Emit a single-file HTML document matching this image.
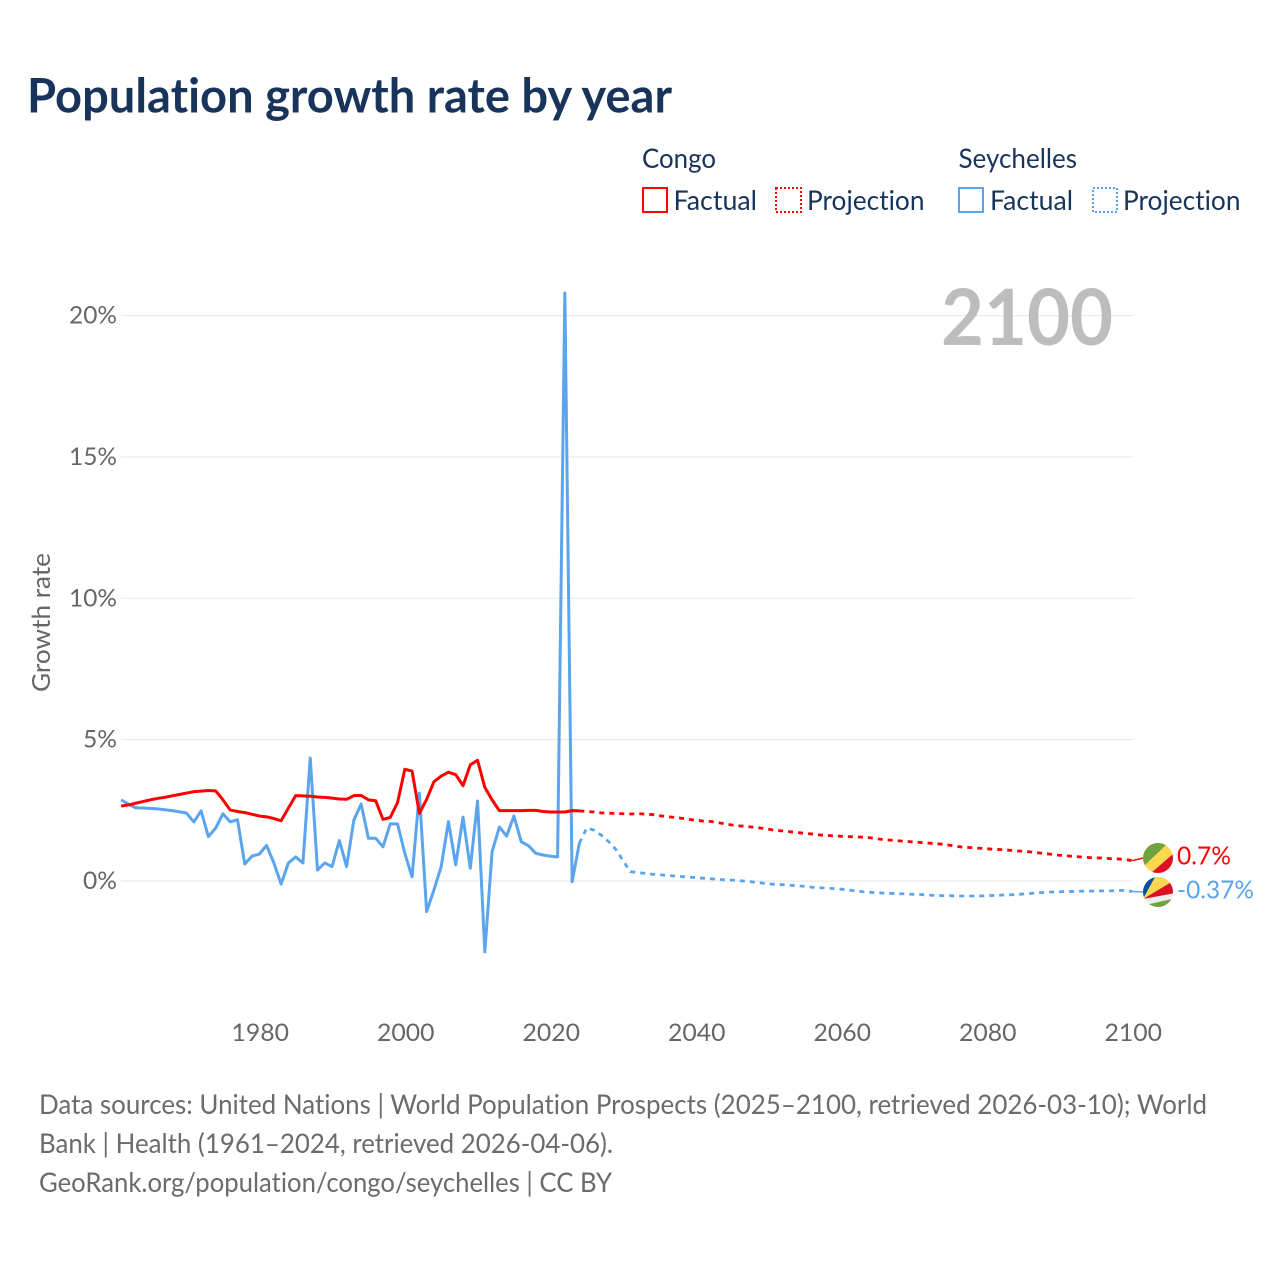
<!DOCTYPE html>
<html lang="en">
<head>
<meta charset="utf-8">
<title>Population growth rate by year</title>
<style>
html,body{margin:0;padding:0;background:#fff;}
svg{display:block;}
text{font-family:"Lato","Carlito","Liberation Sans",sans-serif;font-variant-ligatures:none;font-feature-settings:"liga" 0,"clig" 0;}
</style>
</head>
<body>
<svg id="chart" xmlns="http://www.w3.org/2000/svg" width="1280" height="1280" viewBox="0 0 1280 1280">
  <defs>
    <clipPath id="flag-clip-a"><circle cx="0" cy="0" r="15"/></clipPath>
    <clipPath id="flag-clip-b"><circle cx="0" cy="0" r="15"/></clipPath>
  </defs>
  <rect width="1280" height="1280" fill="#fff"/>
  <text x="27" y="112.5" font-size="48" font-weight="700" fill="#18345a" textLength="645" lengthAdjust="spacingAndGlyphs">Population growth rate by year</text>

  <g font-size="27" fill="#18345a">
    <text x="642" y="168" textLength="74" lengthAdjust="spacingAndGlyphs">Congo</text>
    <text x="958.5" y="168" textLength="118.5" lengthAdjust="spacingAndGlyphs">Seychelles</text>
    <rect x="643" y="188" width="24" height="24" fill="none" stroke="#ff0000" stroke-width="2"/>
    <text x="673.5" y="210" textLength="83.5" lengthAdjust="spacingAndGlyphs">Factual</text>
    <rect x="776" y="188" width="25" height="24" fill="none" stroke="#ff0000" stroke-width="2" stroke-dasharray="2 2"/>
    <text x="807" y="210" textLength="117.5" lengthAdjust="spacingAndGlyphs">Projection</text>
    <rect x="959" y="188" width="24" height="24" fill="none" stroke="#5ba4ee" stroke-width="2"/>
    <text x="990" y="210" textLength="83" lengthAdjust="spacingAndGlyphs">Factual</text>
    <rect x="1093" y="188" width="24" height="24" fill="none" stroke="#5ba4ee" stroke-width="2" stroke-dasharray="2 2"/>
    <text x="1123" y="210" textLength="117.5" lengthAdjust="spacingAndGlyphs">Projection</text>
  </g>

  <g id="grid"></g>
  <text x="941" y="345" font-size="78" font-weight="700" fill="#bdbdbd" textLength="172" lengthAdjust="spacingAndGlyphs">2100</text>
  <g id="y-ticks"></g>
  <g id="x-ticks"></g>
  <text transform="translate(50 692) rotate(-90)" font-size="25" fill="#666" textLength="139" lengthAdjust="spacingAndGlyphs">Growth rate</text>
  <g id="series"></g>

  <g id="flag-congo">
    <g clip-path="url(#flag-clip-a)">
      <rect x="-15" y="-15" width="30" height="30" fill="#fbd94e"/>
      <polygon points="-15,-15 10,-15 -15,9" fill="#6fa33f"/>
      <polygon points="-7,15 15,-4 15,15" fill="#dc1126"/>
    </g>
  </g>
  <g id="flag-seychelles">
    <g clip-path="url(#flag-clip-b)">
      <rect x="-15" y="-15" width="30" height="30" fill="#eeeeee"/>
      <polygon points="-15,13.6 15,6.8 15,15 -15,15" fill="#6fa33f"/>
      <polygon points="-15,7 15,-11 15,1.5" fill="#dc1126"/>
      <polygon points="-15,7 -3,-15 15,-15 15,-11" fill="#fbd94e"/>
      <polygon points="-15,7 -15,-15 -3,-15" fill="#0b4ea2"/>
    </g>
  </g>
  <text id="label-congo" x="1177" font-size="25" fill="#ff0000" textLength="54" lengthAdjust="spacingAndGlyphs"></text>
  <text id="label-seychelles" x="1177" font-size="25" fill="#5ba4ee" textLength="77" lengthAdjust="spacingAndGlyphs"></text>

  <g font-size="27" fill="#6b6b6b">
    <text x="39" y="1114" textLength="1168" lengthAdjust="spacingAndGlyphs">Data sources: United Nations | World Population Prospects (2025–2100, retrieved 2026-03-10); World</text>
    <text x="39" y="1153" textLength="574" lengthAdjust="spacingAndGlyphs">Bank | Health (1961–2024, retrieved 2026-04-06).</text>
    <text x="39" y="1192" textLength="573" lengthAdjust="spacingAndGlyphs">GeoRank.org/population/congo/seychelles | CC BY</text>
  </g>
</svg>
<script>
const yTickValues = [0, 5, 10, 15, 20];
const yTickLabels = ["0%", "5%", "10%", "15%", "20%"];
const xTickValues = [1980, 2000, 2020, 2040, 2060, 2080, 2100];
const factualStartYear = 1961;
const projectionStartYear = 2024;
const congoFactual = [
  2.65,2.69,2.75,2.81,2.87,2.92,2.96,3.01,3.06,
  3.11,3.16,3.18,3.20,3.19,2.87,2.51,2.46,2.42,2.36,
  2.30,2.27,2.21,2.13,2.58,3.02,3.01,3.00,2.97,2.96,
  2.93,2.90,2.89,3.02,3.03,2.87,2.84,2.18,2.25,2.77,
  3.95,3.89,2.39,2.89,3.51,3.71,3.85,3.76,3.37,4.11,
  4.27,3.31,2.87,2.49,2.49,2.49,2.49,2.50,2.50,2.46,
  2.44,2.44,2.44,2.49,2.48
];
const seychellesFactual = [
  2.87,2.72,2.59,2.58,2.57,2.55,2.52,2.49,2.45,
  2.40,2.09,2.48,1.57,1.87,2.38,2.09,2.17,0.60,0.88,
  0.95,1.26,0.64,-0.11,0.64,0.85,0.64,4.35,0.39,0.64,
  0.51,1.43,0.51,2.16,2.72,1.51,1.51,1.21,2.02,2.02,
  0.98,0.15,3.11,-1.08,-0.32,0.51,2.10,0.57,2.26,0.45,
  2.83,-2.51,1.04,1.91,1.59,2.30,1.39,1.25,0.98,0.92,
  0.88,0.85,20.80,-0.03,1.34
];
const congoProjection = [
  2.48,2.46,2.44,2.41,2.40,2.39,
  2.38,2.37,2.38,2.37,2.35,2.31,2.28,2.25,2.22,2.18,
  2.15,2.12,2.11,2.07,2.02,1.98,1.95,1.93,1.90,1.87,
  1.83,1.79,1.77,1.74,1.71,1.69,1.66,1.63,1.61,1.60,
  1.58,1.57,1.56,1.55,1.53,1.49,1.46,1.44,1.42,1.40,
  1.38,1.36,1.34,1.32,1.30,1.26,1.22,1.19,1.18,1.16,
  1.14,1.12,1.11,1.09,1.07,1.05,1.03,1.00,0.97,0.94,
  0.91,0.89,0.87,0.85,0.83,0.82,0.81,0.79,0.78,0.76,
  0.72
];
const seychellesProjection = [
  1.34,1.87,1.80,1.62,1.40,1.12,
  0.72,0.33,0.30,0.27,0.24,0.22,0.20,0.18,0.16,0.14,
  0.12,0.10,0.08,0.06,0.04,0.03,0.01,-0.01,-0.04,-0.07,
  -0.10,-0.12,-0.13,-0.15,-0.17,-0.19,-0.22,-0.24,-0.25,-0.27,
  -0.29,-0.32,-0.35,-0.38,-0.40,-0.42,-0.43,-0.44,-0.45,-0.46,
  -0.47,-0.48,-0.50,-0.51,-0.52,-0.52,-0.53,-0.53,-0.53,-0.53,
  -0.52,-0.51,-0.50,-0.49,-0.48,-0.46,-0.44,-0.42,-0.40,-0.39,
  -0.38,-0.37,-0.37,-0.36,-0.36,-0.35,-0.35,-0.35,-0.34,-0.33,
  -0.37
];
const congoEndLabel = "0.7%";
const seychellesEndLabel = "-0.37%";

const NS = "http://www.w3.org/2000/svg";
function xScale(year) { return 259.3 + (year - 1980) * 7.275; }
function yScale(v) { return 881 - v * 28.27; }
function makePath(values, startYear) {
  return values.map(function (v, i) {
    return (i ? "L" : "M") + xScale(startYear + i).toFixed(2) + " " + yScale(v).toFixed(2);
  }).join(" ");
}
function drawLine(values, startYear, color, dash, width, name) {
  const p = document.createElementNS(NS, "path");
  p.setAttribute("d", makePath(values, startYear));
  p.setAttribute("fill", "none");
  p.setAttribute("stroke", color);
  p.setAttribute("stroke-width", width);
  p.setAttribute("stroke-linejoin", "round");
  if (dash) p.setAttribute("stroke-dasharray", dash);
  
  
  document.getElementById("series").appendChild(p);
}

const gridGroup = document.getElementById("grid");
const yTickGroup = document.getElementById("y-ticks");
const xTickGroup = document.getElementById("x-ticks");

yTickValues.forEach(function (v, i) {
  const ln = document.createElementNS(NS, "line");
  ln.setAttribute("x1", 121);
  ln.setAttribute("x2", 1133);
  ln.setAttribute("y1", yScale(v));
  ln.setAttribute("y2", yScale(v));
  ln.setAttribute("stroke", "#ebebeb");
  ln.setAttribute("stroke-width", "1.2");
  
  
  gridGroup.appendChild(ln);

  const t = document.createElementNS(NS, "text");
  t.setAttribute("x", 117);
  t.setAttribute("y", yScale(v) + 8);
  t.setAttribute("text-anchor", "end");
  t.setAttribute("font-size", "24");
  t.setAttribute("fill", "#666");
  t.setAttribute("textLength", yTickLabels[i].length > 2 ? 48 : 34);
  t.setAttribute("lengthAdjust", "spacingAndGlyphs");
  
  
  t.textContent = yTickLabels[i];
  yTickGroup.appendChild(t);
});

xTickValues.forEach(function (year) {
  const t = document.createElementNS(NS, "text");
  t.setAttribute("x", xScale(year) + 1);
  t.setAttribute("y", 1041);
  t.setAttribute("text-anchor", "middle");
  t.setAttribute("font-size", "24");
  t.setAttribute("fill", "#666");
  t.setAttribute("textLength", 57.5);
  t.setAttribute("lengthAdjust", "spacingAndGlyphs");
  
  
  t.textContent = String(year);
  xTickGroup.appendChild(t);
});

drawLine(seychellesFactual, factualStartYear, "#5ba4ee", "", 3, "seychelles-factual-line");
drawLine(seychellesProjection, projectionStartYear, "#5ba4ee", "5 5", 2.8, "seychelles-projection-line");
drawLine(congoFactual, factualStartYear, "#ff0000", "", 3, "congo-factual-line");
drawLine(congoProjection, projectionStartYear, "#ff0000", "5 5", 2.8, "congo-projection-line");

const congoEndY = yScale(congoProjection[congoProjection.length - 1]);
const seychellesEndY = yScale(seychellesProjection[seychellesProjection.length - 1]);

const connectorCongo = document.createElementNS(NS, "line");
connectorCongo.setAttribute("x1", xScale(2100));
connectorCongo.setAttribute("y1", congoEndY);
connectorCongo.setAttribute("x2", 1143);
connectorCongo.setAttribute("y2", congoEndY - 2.6);
connectorCongo.setAttribute("stroke", "#ff0000");
connectorCongo.setAttribute("stroke-width", "1.5");


document.getElementById("series").appendChild(connectorCongo);

const connectorSeychelles = document.createElementNS(NS, "line");
connectorSeychelles.setAttribute("x1", xScale(2100));
connectorSeychelles.setAttribute("y1", seychellesEndY);
connectorSeychelles.setAttribute("x2", 1143);
connectorSeychelles.setAttribute("y2", seychellesEndY + 0.5);
connectorSeychelles.setAttribute("stroke", "#5ba4ee");
connectorSeychelles.setAttribute("stroke-width", "1.5");


document.getElementById("series").appendChild(connectorSeychelles);

document.getElementById("flag-congo").setAttribute("transform", "translate(1158 " + (congoEndY - 2.6) + ")");
document.getElementById("flag-seychelles").setAttribute("transform", "translate(1158 " + (seychellesEndY + 0.5) + ")");
const congoLabel = document.getElementById("label-congo");
congoLabel.setAttribute("y", congoEndY + 3.7);
congoLabel.textContent = congoEndLabel;
const seychellesLabel = document.getElementById("label-seychelles");
seychellesLabel.setAttribute("y", seychellesEndY + 6.8);
seychellesLabel.textContent = seychellesEndLabel;
</script>
</body>
</html>
